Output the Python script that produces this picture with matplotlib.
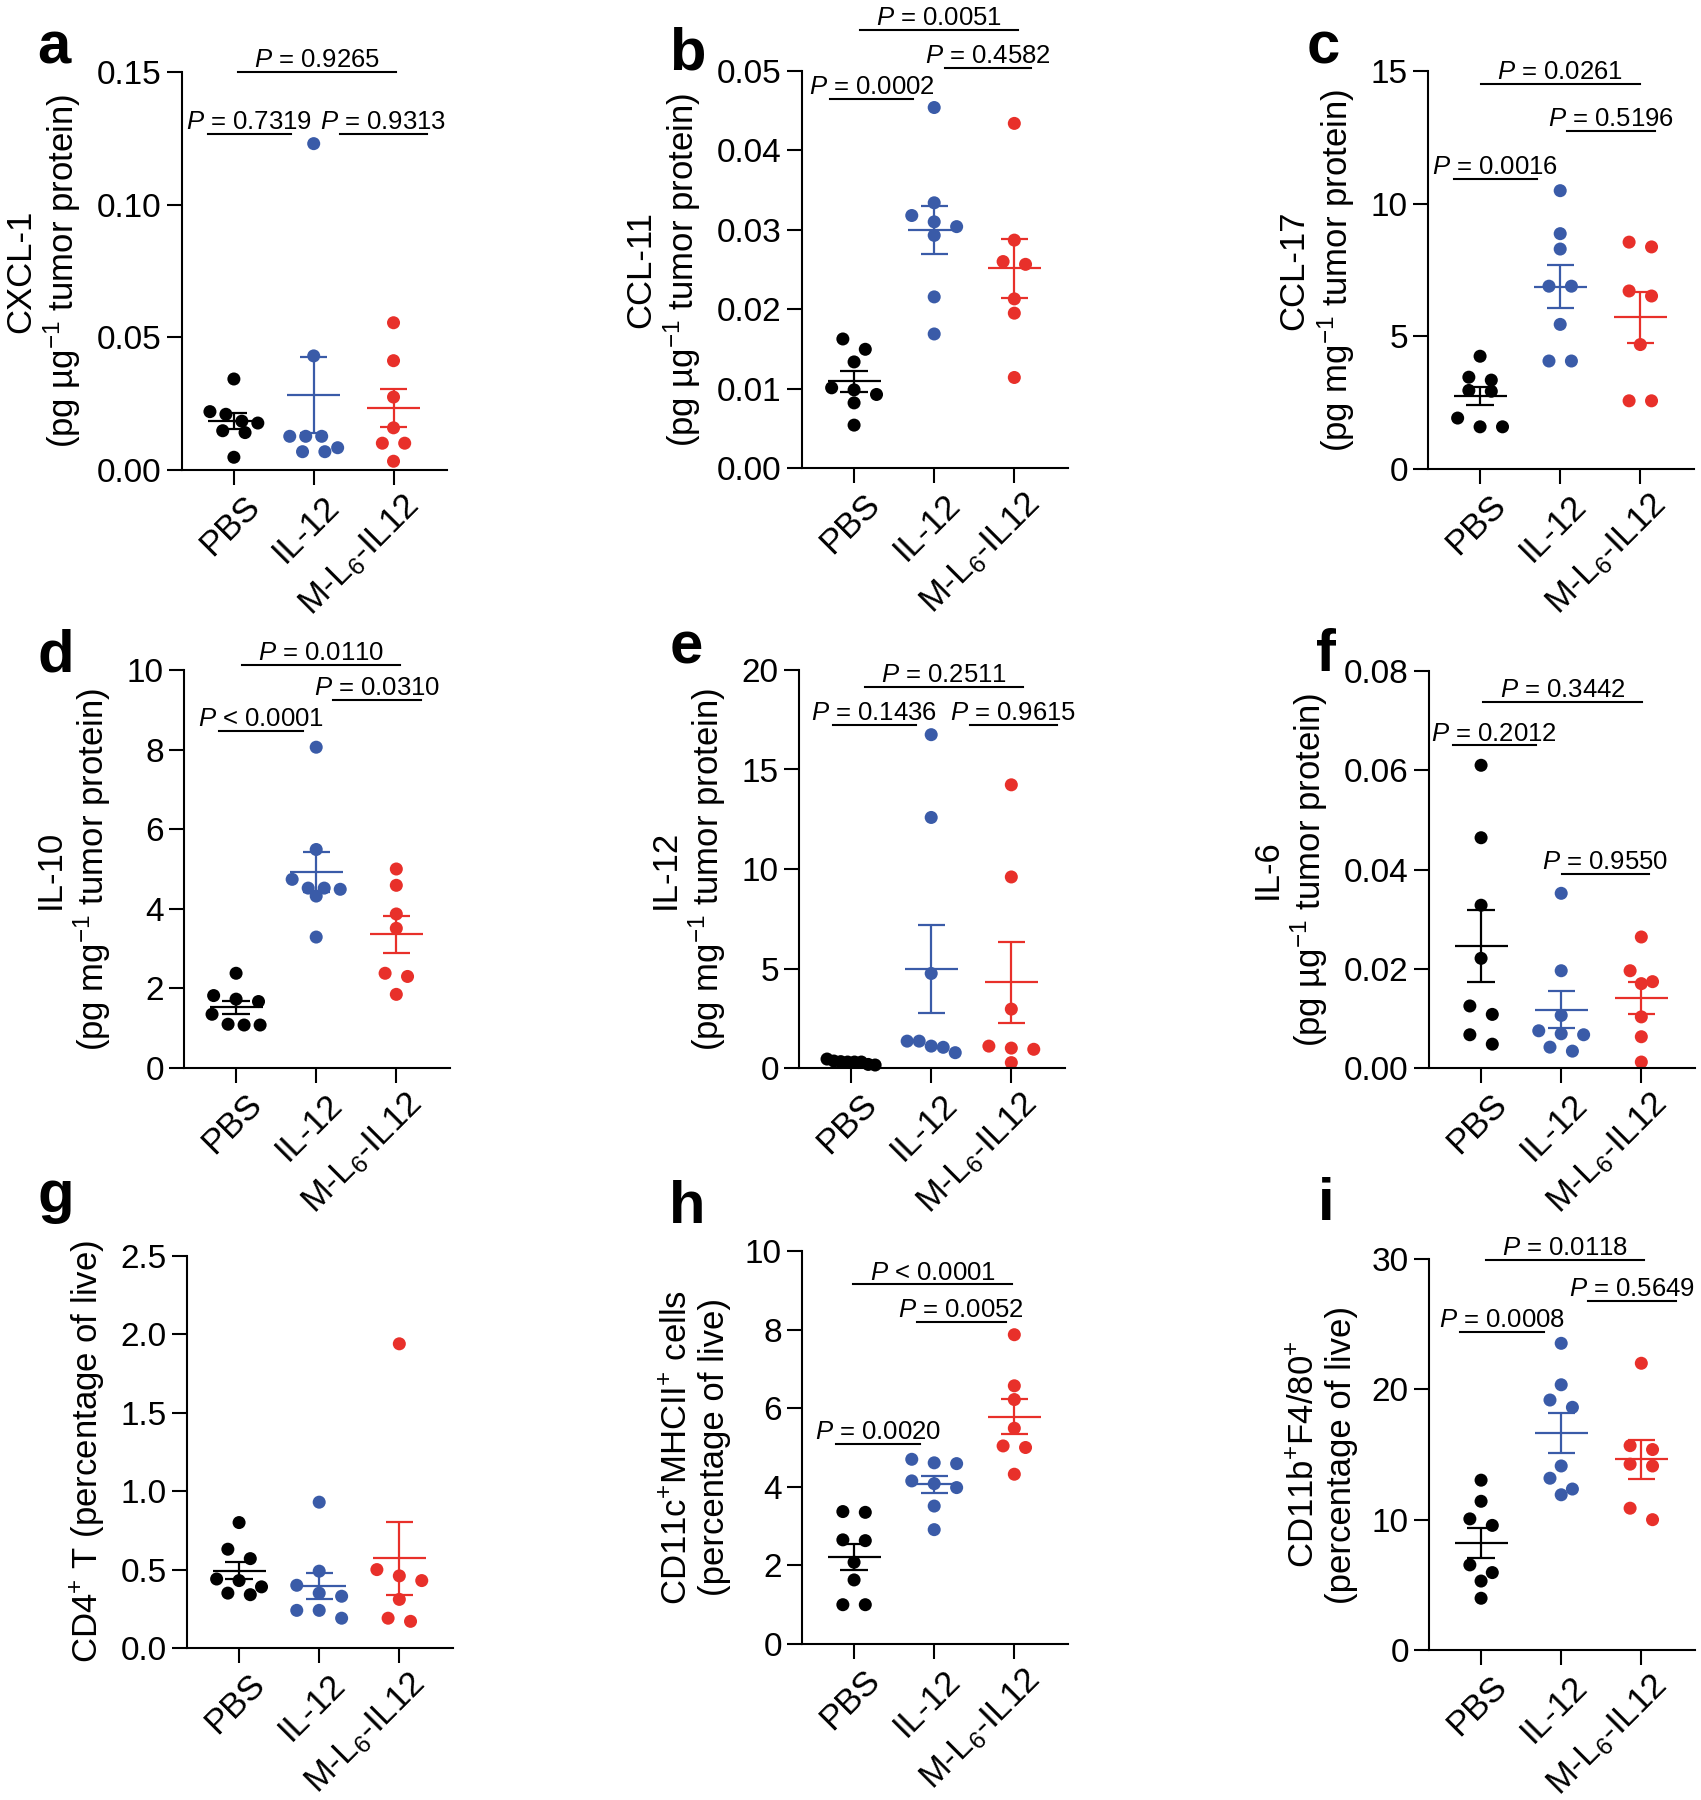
import matplotlib
matplotlib.use("Agg")
import matplotlib.pyplot as plt
import matplotlib.transforms as mtransforms
from matplotlib.ticker import FormatStrFormatter
import numpy as np

plt.rcParams['font.family'] = ['Liberation Sans', 'DejaVu Sans']
plt.rcParams['mathtext.fontset'] = 'custom'
plt.rcParams['mathtext.rm'] = 'Liberation Sans'
plt.rcParams['mathtext.it'] = 'Liberation Sans:italic'
plt.rcParams['mathtext.bf'] = 'Liberation Sans:bold'

groups = ['PBS', 'IL-12', 'M-L$_6$-IL12']
colors = ['#000000', '#3A5BA8', '#E8302A']

# ---- values ----
cxcl1_pbs = [0.0343, 0.0210, 0.0220, 0.0184, 0.0177, 0.0148, 0.0141, 0.0048]
cxcl1_il12 = [0.1230, 0.0430, 0.0127, 0.0127, 0.0127, 0.0069, 0.0084, 0.0069]
cxcl1_ml6 = [0.0555, 0.0412, 0.0275, 0.0159, 0.0101, 0.0101, 0.0033]

ccl11_pbs = [0.01625, 0.01495, 0.01336, 0.0101, 0.00984, 0.00926, 0.0082, 0.0054]
ccl11_il12 = [0.0454, 0.0334, 0.0318, 0.0310, 0.0304, 0.0293, 0.02155, 0.01688]
ccl11_ml6 = [0.0434, 0.0287, 0.0260, 0.02565, 0.0213, 0.0195, 0.0114]

ccl17_pbs = [4.25, 3.35, 3.46, 2.96, 2.93, 1.92, 1.59, 1.59]
ccl17_il12 = [10.49, 8.87, 8.29, 6.89, 6.89, 5.45, 4.07, 4.07]
ccl17_ml6 = [8.55, 8.37, 6.71, 6.52, 4.69, 2.57, 2.57]

il10_pbs = [2.38, 1.67, 1.73, 1.82, 1.35, 1.08, 1.08, 1.10]
il10_il12 = [8.06, 5.49, 4.74, 4.52, 4.49, 4.52, 4.32, 3.29]
il10_ml6 = [5.00, 4.59, 3.87, 3.51, 2.38, 2.30, 1.85]

il12_pbs = [0.30, 0.45, 0.30, 0.35, 0.15, 0.32, 0.18, 0.30]
il12_il12 = [16.75, 12.59, 4.75, 1.04, 1.35, 1.10, 1.35, 0.77]
il12_ml6 = [14.23, 9.60, 2.96, 1.10, 0.94, 1.00, 0.27]

il6_pbs = [0.0610, 0.0464, 0.0328, 0.0221, 0.0108, 0.0125, 0.0067, 0.0048]
il6_il12 = [0.0352, 0.0196, 0.0106, 0.0069, 0.0075, 0.0067, 0.0034, 0.0042]
il6_ml6 = [0.0264, 0.0196, 0.0174, 0.0170, 0.0103, 0.0063, 0.0012]

cd4_pbs = [0.80, 0.57, 0.63, 0.44, 0.43, 0.39, 0.34, 0.35]
cd4_il12 = [0.93, 0.49, 0.35, 0.40, 0.33, 0.19, 0.24, 0.24]
cd4_ml6 = [1.94, 0.50, 0.46, 0.43, 0.31, 0.17, 0.19]

dc_pbs = [3.35, 3.37, 2.63, 2.65, 2.08, 1.63, 1.00, 1.00]
dc_il12 = [4.59, 4.61, 4.70, 4.08, 4.15, 3.98, 3.51, 2.91]
dc_ml6 = [7.87, 6.57, 6.22, 5.49, 5.04, 5.00, 4.32]

mac_pbs = [13.03, 11.41, 10.06, 9.56, 6.53, 5.94, 5.29, 3.97]
mac_il12 = [23.53, 20.35, 19.18, 18.62, 14.12, 13.18, 12.35, 11.91]
mac_ml6 = [22.0, 15.38, 15.68, 14.12, 14.26, 10.88, 10.0]

# p-value annotations: (from, to, height, text)
p_a = [(0.055, 2.03, 0.150, '$P$ = 0.9265'), (-0.33, 0.71, 0.1265, '$P$ = 0.7319'),
       (1.33, 2.42, 0.1265, '$P$ = 0.9313')]
p_b = [(0.07, 2.04, 0.0552, '$P$ = 0.0051'), (1.13, 2.21, 0.0504, '$P$ = 0.4582'),
       (-0.30, 0.74, 0.0465, '$P$ = 0.0002')]
p_c = [(0.01, 1.99, 14.5, '$P$ = 0.0261'), (1.08, 2.18, 12.74, '$P$ = 0.5196'),
       (-0.33, 0.71, 10.93, '$P$ = 0.0016')]
p_d = [(0.07, 2.05, 10.12, '$P$ = 0.0110'), (1.21, 2.31, 9.24, '$P$ = 0.0310'),
       (-0.21, 0.84, 8.47, '$P$ < 0.0001')]
p_e = [(0.17, 2.15, 19.13, '$P$ = 0.2511'), (-0.23, 0.81, 17.23, '$P$ = 0.1436'),
       (1.48, 2.57, 17.23, '$P$ = 0.9615')]
p_f = [(0.03, 2.01, 0.0738, '$P$ = 0.3442'), (-0.35, 0.68, 0.0650, '$P$ = 0.2012'),
       (1.01, 2.09, 0.0391, '$P$ = 0.9550')]
p_h = [(-0.01, 1.97, 9.15, '$P$ < 0.0001'), (0.79, 1.89, 8.2, '$P$ = 0.0052'),
       (-0.22, 0.82, 5.1, '$P$ = 0.0020')]
p_i = [(0.06, 2.03, 29.9, '$P$ = 0.0118'), (1.34, 2.43, 26.76, '$P$ = 0.5649'),
       (-0.26, 0.78, 24.41, '$P$ = 0.0008')]

W, H = 1701, 1800
fig = plt.figure(figsize=(W / 100, H / 100), dpi=100)

# letter, data, ymax, ystep, fmt, ylabel, axes box in px (l, t, r, b), letter pos, brackets
panels = [
    ('a', [cxcl1_pbs, cxcl1_il12, cxcl1_ml6], 0.15, 0.05, '%.2f',
     'CXCL-1\n(pg µg$^{-1}$ tumor protein)', (182, 72, 447, 470), (37, 63), p_a),
    ('b', [ccl11_pbs, ccl11_il12, ccl11_ml6], 0.05, 0.01, '%.2f',
     'CCL-11\n(pg µg$^{-1}$ tumor protein)', (802, 71, 1068, 468), (669, 69), p_b),
    ('c', [ccl17_pbs, ccl17_il12, ccl17_ml6], 15, 5, '%d',
     'CCL-17\n(pg mg$^{-1}$ tumor protein)', (1428, 71, 1694, 469), (1307, 63), p_c),
    ('d', [il10_pbs, il10_il12, il10_ml6], 10, 2, '%d',
     'IL-10\n(pg mg$^{-1}$ tumor protein)', (184, 670, 450, 1068), (37, 671), p_d),
    ('e', [il12_pbs, il12_il12, il12_ml6], 20, 5, '%d',
     'IL-12\n(pg mg$^{-1}$ tumor protein)', (799, 670, 1065, 1068), (670, 663), p_e),
    ('f', [il6_pbs, il6_il12, il6_ml6], 0.08, 0.02, '%.2f',
     'IL-6\n(pg µg$^{-1}$ tumor protein)', (1429, 671, 1695, 1068), (1316, 671), p_f),
    ('g', [cd4_pbs, cd4_il12, cd4_ml6], 2.5, 0.5, '%.1f',
     'CD4$^{+}$ T (percentage of live)', (187, 1256, 453, 1648), (37, 1212), []),
    ('h', [dc_pbs, dc_il12, dc_ml6], 10, 2, '%d',
     'CD11c$^{+}$MHCII$^{+}$ cells\n(percentage of live)', (802, 1251, 1068, 1644), (669, 1223), p_h),
    ('i', [mac_pbs, mac_il12, mac_ml6], 30, 10, '%d',
     'CD11b$^{+}$F4/80$^{+}$\n(percentage of live)', (1429, 1259, 1695, 1650), (1318, 1220), p_i),
]


def swarm_offsets(vals, row_h, s_max=0.28, span=0.6):
    vals = np.asarray(vals, dtype=float)
    order = np.argsort(-vals, kind='stable')
    rows = []
    for idx in order:
        if rows and vals[rows[-1][0]] - vals[idx] < row_h:
            rows[-1].append(idx)
        else:
            rows.append([idx])
    offs = np.zeros(len(vals))
    for row in rows:
        n = len(row)
        if n == 1:
            continue
        s = min(s_max, span / (n - 1))
        for k, idx in enumerate(row):
            offs[idx] = (k - (n - 1) / 2) * s
    return offs


for letter, data, ymax, ystep, fmt, ylabel, box, lpos, brackets in panels:
    l, t, r, b = box
    ax = fig.add_axes([l / W, 1 - b / H, (r - l) / W, (b - t) / H])
    row_h = ymax * 12.0 / (b - t)
    for gi, vals in enumerate(data):
        vals = np.asarray(vals)
        xs = gi + swarm_offsets(vals, row_h)
        ax.scatter(xs, vals, s=88, color=colors[gi], edgecolors='none', zorder=2, clip_on=False)
        m = vals.mean()
        sem = vals.std(ddof=1) / np.sqrt(len(vals))
        kw = dict(color=colors[gi], lw=1.6, zorder=3, solid_capstyle='butt')
        ax.plot([gi - 0.33, gi + 0.33], [m, m], **kw)
        ax.plot([gi, gi], [m - sem, m + sem], **kw)
        ax.plot([gi - 0.17, gi + 0.17], [m - sem, m - sem], **kw)
        ax.plot([gi - 0.17, gi + 0.17], [m + sem, m + sem], **kw)

    for x0, x1, y, txt in brackets:
        ax.plot([x0, x1], [y, y], color='k', lw=1.5, clip_on=False, zorder=4)
        ax.annotate(txt, xy=((x0 + x1) / 2, y), xytext=(0, 3.5), textcoords='offset points',
                    ha='center', va='baseline', fontsize=18.5, annotation_clip=False)

    ax.set_xlim(-0.65, 2.67)
    ax.set_ylim(0, ymax)
    ax.set_yticks(np.arange(0, ymax + ystep / 2, ystep))
    ax.yaxis.set_major_formatter(FormatStrFormatter(fmt))
    ax.set_xticks([0, 1, 2])
    ax.set_xticklabels(groups, rotation=45, ha='right', va='center', rotation_mode='anchor')
    for side in ['top', 'right']:
        ax.spines[side].set_visible(False)
    for side in ['left', 'bottom']:
        ax.spines[side].set_linewidth(1.5)
    ax.tick_params(axis='both', length=11, width=1.5, labelsize=24, pad=3.5)
    ax.tick_params(axis='x', labelsize=25)
    shift = mtransforms.ScaledTranslation(15 / 72, -8 / 72, fig.dpi_scale_trans)
    for lab in ax.get_xticklabels():
        lab.set_transform(lab.get_transform() + shift)
    ax.set_ylabel(ylabel, fontsize=25, labelpad=10, linespacing=1.15)

    fig.text(lpos[0] / W, 1 - lpos[1] / H, letter, fontsize=43, fontweight='bold',
             ha='left', va='baseline')

fig.savefig('out.png', dpi=100)
